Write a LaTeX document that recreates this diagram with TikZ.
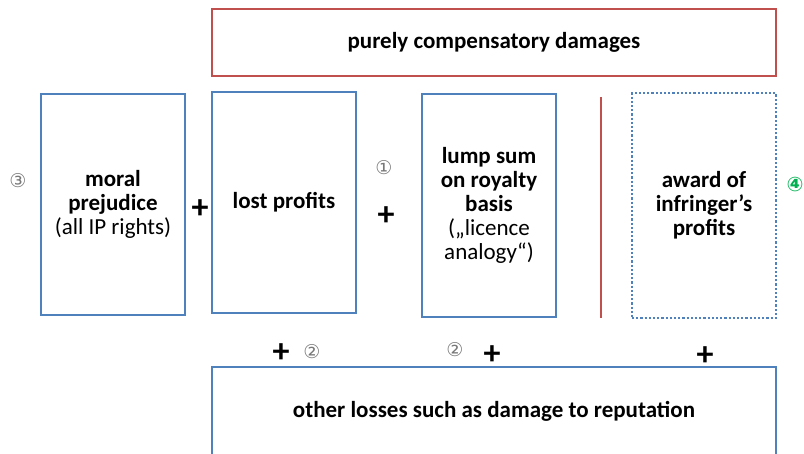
\documentclass[tikz,border=0pt]{standalone}
\usepackage{fontspec}
\setmainfont{Carlito}
\newfontfamily\circfont{DejaVu Sans}
\usetikzlibrary{positioning, calc}
\definecolor{boxblue}  {RGB}{ 79, 129, 189}
\definecolor{boxred}   {RGB}{192,  80,  77}
\definecolor{circgray} {RGB}{120, 120, 120}
\definecolor{circgreen}{RGB}{  0, 176,  80}
\tikzset{
	dmgbox/.style={draw=boxblue, line width=2.2pt, align=center, inner sep=0pt},
	plus/.style={font=\fontsize{34}{34}\selectfont\bfseries, inner sep=0pt},
	circnum/.style={font=\circfont\fontsize{19}{19}\selectfont, text=circgray, inner sep=0pt}
}
\begin{document}
\begin{tikzpicture}[x=1pt,y=-1pt,font=\fontsize{23}{24.2}\selectfont]
	\clip (0,0) rectangle (804,454);
	% upper row
	\node[dmgbox, draw=boxred, minimum width=564pt, minimum height=67pt] (comp) at (494,42.5) {\textbf{purely compensatory damages}};
	\node[dmgbox, minimum width=144pt, minimum height=221pt] (moral) at (113,204.5) {\textbf{moral}\\\textbf{prejudice}\\(all IP rights)};
	\node[dmgbox, minimum width=144pt, minimum height=221pt] (lost) at (284,202.5) {\textbf{lost profits}};
	\node[dmgbox, minimum width=134pt, minimum height=223pt] (lump) at (489,205.5) {\textbf{lump sum}\\\textbf{on royalty}\\\textbf{basis}\\(\char"201E licence\\analogy\char"201C)};
	\node[dmgbox, dotted, minimum width=144pt, minimum height=225pt] (award) at (704,205.5) {\textbf{award of}\\\textbf{infringer\char"2019 s}\\\textbf{profits}};
	\coordinate (sepT) at (601,97);
	\coordinate (sepB) at (601,318);
	\draw[boxred, line width=2.5pt] (sepT) -- (sepB);
	% lower box
	\node[dmgbox, minimum width=564pt, minimum height=130pt] (other) at (494,432) {};
	\node (otherlbl) at (494,411) {\textbf{other losses such as damage to reputation}};
	% signs and numbers
	\node[plus] (p1) at (200,209) {+};
	\node[plus] (p2) at (386,216) {+};
	\node[plus] (p3) at (281,353) {+};
	\node[plus] (p4) at (492,355) {+};
	\node[plus] (p5) at (705,356) {+};
	\node[circnum] (c1) at (384,168) {\char"2460};
	\node[circnum] (c3) at (18,181) {\char"2462};
	\node[circnum] (c2a) at (312,352) {\char"2461};
	\node[circnum] (c2b) at (455,350) {\char"2461};
	\node[circnum, text=circgreen, font=\circfont\bfseries\fontsize{20}{20}\selectfont] (c4) at (795,185) {\char"2463};
\end{tikzpicture}
\end{document}
